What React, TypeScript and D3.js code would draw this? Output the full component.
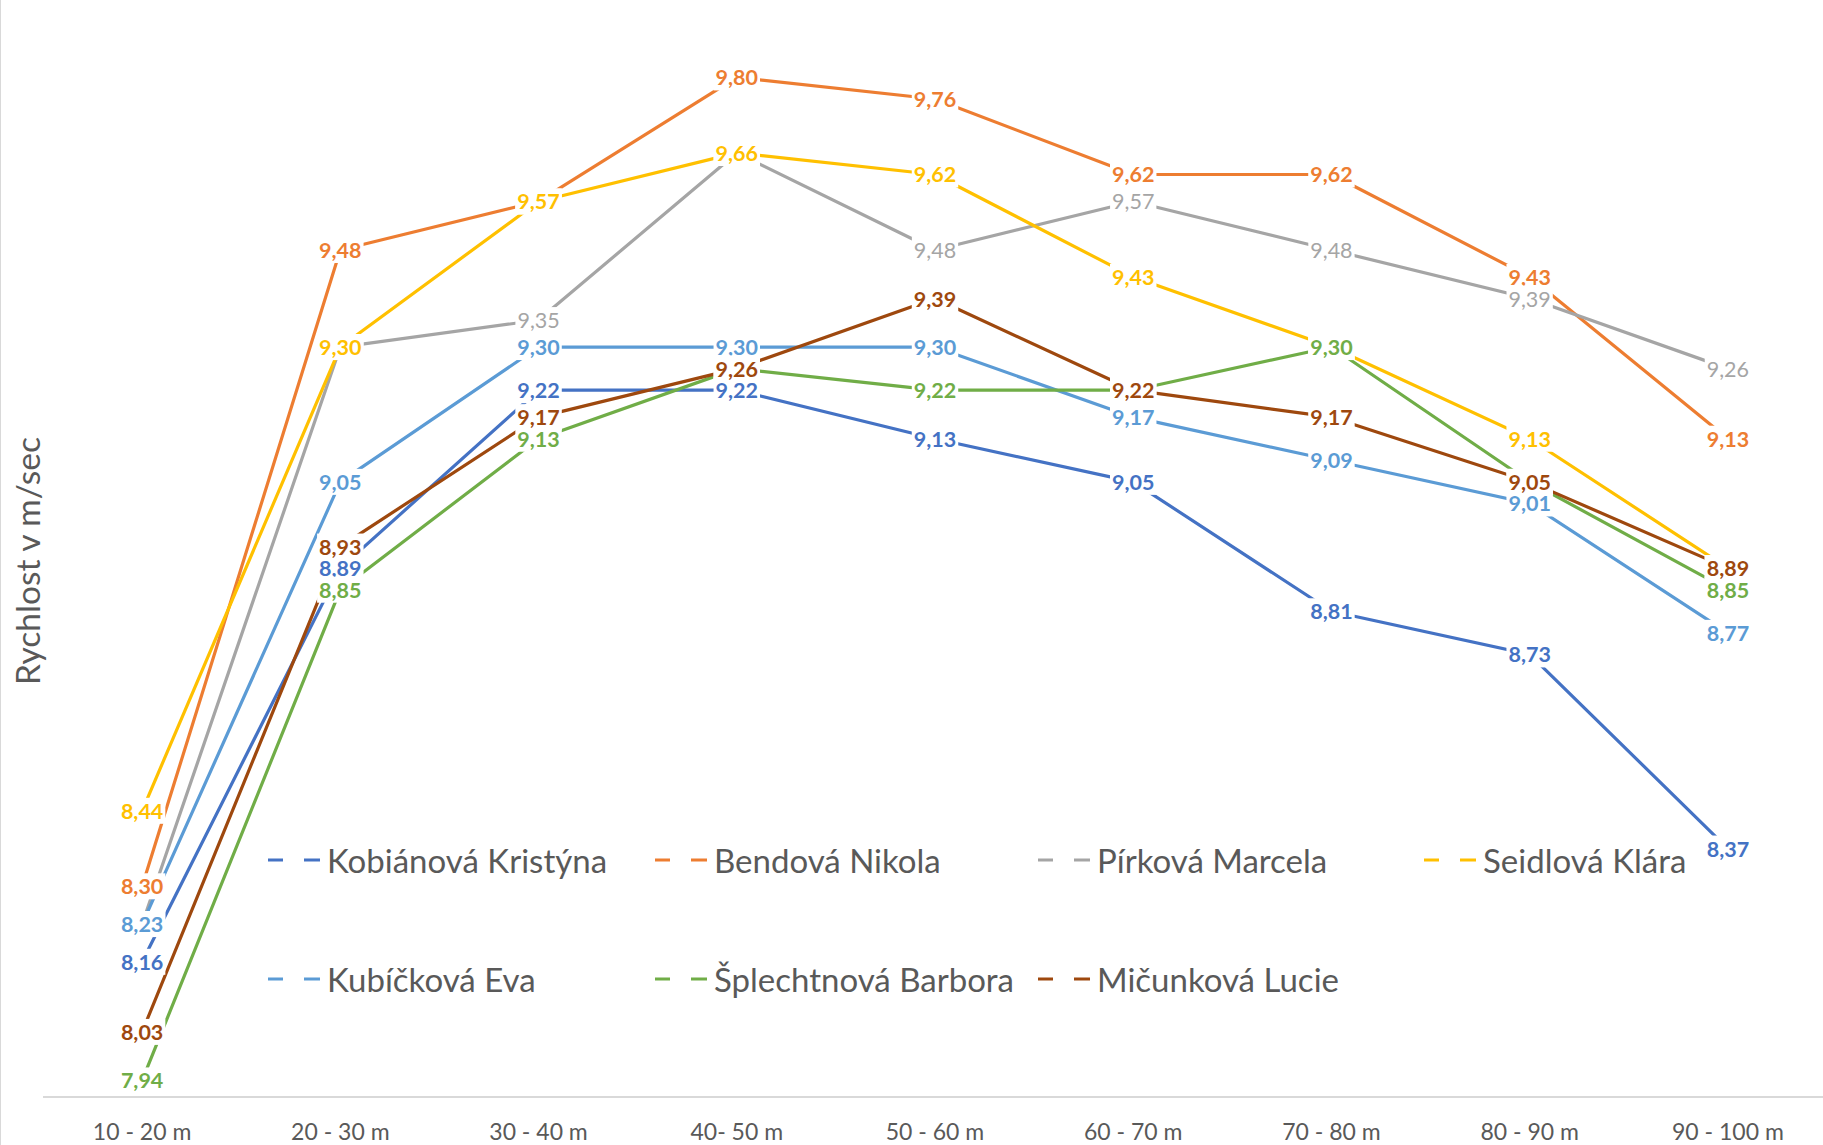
import * as d3 from "d3";
import { useEffect, useRef } from "react";

const categories = ["10 - 20 m", "20 - 30 m", "30 - 40 m", "40- 50 m", "50 - 60 m", "60 - 70 m", "70 - 80 m", "80 - 90 m", "90 - 100 m"];

const kobianova = [8.16, 8.89, 9.22, 9.22, 9.13, 9.05, 8.81, 8.73, 8.37];
const bendova = [8.3, 9.48, 9.57, 9.8, 9.76, 9.62, 9.62, 9.43, 9.13];
const pirkova = [8.23, 9.3, 9.35, 9.66, 9.48, 9.57, 9.48, 9.39, 9.26];
const seidlova = [8.44, 9.3, 9.57, 9.66, 9.62, 9.43, 9.3, 9.13, 8.89];
const kubickova = [8.23, 9.05, 9.3, 9.3, 9.3, 9.17, 9.09, 9.01, 8.77];
const splechtnova = [7.94, 8.85, 9.13, 9.26, 9.22, 9.22, 9.3, 9.05, 8.85];
const micunkova = [8.03, 8.93, 9.17, 9.26, 9.39, 9.22, 9.17, 9.05, 8.89];

const seriesNames = ["Kobiánová Kristýna", "Bendová Nikola", "Pírková Marcela", "Seidlová Klára", "Kubíčková Eva", "Šplechtnová Barbora", "Mičunková Lucie"];
const seriesColors = ["#4472C4", "#ED7D31", "#A5A5A5", "#FFC000", "#5B9BD5", "#70AD47", "#9E480E"];
const seriesBold = [true, true, false, true, true, true, true];
const seriesValues = [kobianova, bendova, pirkova, seidlova, kubickova, splechtnova, micunkova];

const W = 1823,
  H = 1145;
const font = "Lato, 'Open Sans', sans-serif";

export default function App() {
  const ref = useRef<SVGSVGElement>(null);

  useEffect(() => {
    const svg = d3.select(ref.current);
    svg.selectAll("*").remove();

    const x = d3.scalePoint().domain(categories).range([43, 1827]).padding(0.5);
    const y = d3.scaleLinear().domain([7.9, 9.9]).range([1102, 23.5]);
    const axisY = 1097;

    // chart border (left edge visible)
    svg.append("line").attr("x1", 0.5).attr("x2", 0.5).attr("y1", 0).attr("y2", H).attr("stroke", "#d9d9d9");

    // x axis
    svg.append("line").attr("x1", 43).attr("x2", W).attr("y1", axisY).attr("y2", axisY).attr("stroke", "#d9d9d9").attr("stroke-width", 2);
    svg
      .append("g")
      .selectAll("text")
      .data(categories)
      .join("text")
      .attr("x", (d) => x(d))
      .attr("y", 1131)
      .attr("text-anchor", "middle")
      .attr("dominant-baseline", "central")
      .attr("font-family", font)
      .attr("font-size", 23)
      .attr("fill", "#595959")
      .text((d) => d);

    // y title
    svg
      .append("text")
      .attr("transform", `translate(27, 561) rotate(-90)`)
      .attr("text-anchor", "middle")
      .attr("dominant-baseline", "central")
      .attr("font-family", font)
      .attr("font-size", 33.5)
      .attr("fill", "#595959")
      .text("Rychlost v m/sec");

    // lines
    const line = d3
      .line<number>()
      .x((_, i) => x(categories[i]))
      .y((d) => y(d));
    const lines = svg.append("g");
    seriesValues.forEach((vals, s) => {
      lines.append("path").attr("d", line(vals)).attr("fill", "none").attr("stroke", seriesColors[s]).attr("stroke-width", 3.2).attr("stroke-linejoin", "round");
    });

    // data labels with white boxes (later series sit on top, as in the original)
    const labels = svg.append("g");
    seriesValues.forEach((vals, s) => {
      vals.forEach((v, i) => {
        const g = labels.append("g");
        const rect = g.append("rect").attr("fill", "white");
        const t = g
          .append("text")
          .attr("x", x(categories[i]))
          .attr("y", y(v))
          .attr("text-anchor", "middle")
          .attr("dominant-baseline", "central")
          .attr("font-family", font)
          .attr("font-size", 21.5)
          .attr("font-weight", seriesBold[s] ? 700 : 400)
          .attr("fill", seriesColors[s])
          .text(d3.format(".2f")(v).replace(".", ","));
        const w = (t.node() as SVGTextElement).getComputedTextLength();
        rect
          .attr("x", x(categories[i]) - w / 2 - 2)
          .attr("y", y(v) - 13)
          .attr("width", w + 4)
          .attr("height", 26);
      });
    });

    // legend
    const legendX = [268, 655, 1038, 1424];
    const legendY = [860, 979];
    const legend = svg.append("g");
    seriesNames.forEach((name, s) => {
      const lx = legendX[s % 4];
      const ly = legendY[Math.floor(s / 4)];
      const g = legend.append("g").attr("transform", `translate(${lx},${ly})`);
      g.append("line").attr("x1", 0).attr("x2", 52).attr("y1", 0).attr("y2", 0).attr("stroke", seriesColors[s]).attr("stroke-width", 3.2).attr("stroke-dasharray", "15 21 16");
      g.append("text")
        .attr("x", 59)
        .attr("y", 0)
        .attr("dominant-baseline", "central")
        .attr("font-family", font)
        .attr("font-size", 33)
        .attr("fill", "#595959")
        .text(name);
    });
  }, []);

  return <svg ref={ref} width={W} height={H} style={{ position: "absolute", left: 0, top: 0, background: "white" }} />;
}
